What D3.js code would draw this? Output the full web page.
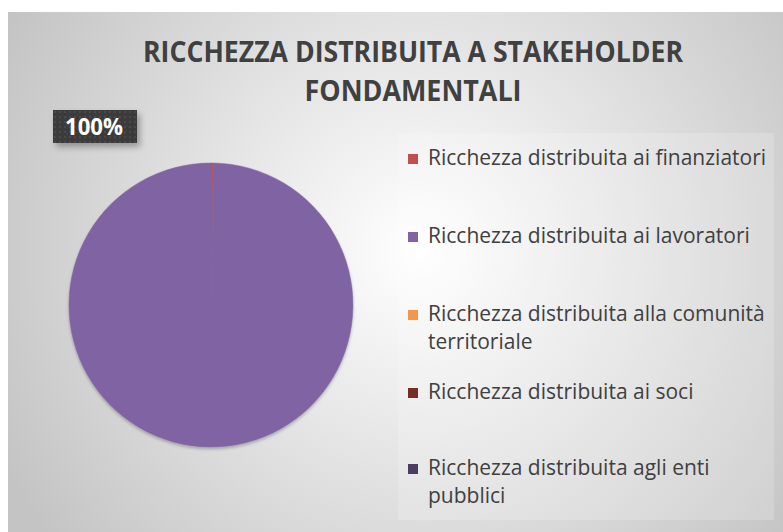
<!DOCTYPE html>
<html>
<head>
<meta charset="utf-8">
<script src="https://cdn.jsdelivr.net/npm/d3@7"></script>
<style>
  body { margin: 0; background: #fff; }
  svg { display: block; font-family: "Open Sans", "Noto Sans", sans-serif; }
</style>
</head>
<body>
<svg id="chart" width="783" height="532"></svg>
<script>
const titleLines = ['RICCHEZZA DISTRIBUITA A STAKEHOLDER', 'FONDAMENTALI'];
const categories = [
  'Ricchezza distribuita ai finanziatori',
  'Ricchezza distribuita ai lavoratori',
  'Ricchezza distribuita alla comunità territoriale',
  'Ricchezza distribuita ai soci',
  'Ricchezza distribuita agli enti pubblici'
];
const values = [0.25, 99.75, 0, 0, 0];
const colors = ['#c0504d', '#8064a2', '#f79646', '#772c2a', '#4d3b62'];
// legend text broken the way the chart wraps it
const legendLines = [
  ['Ricchezza distribuita ai finanziatori'],
  ['Ricchezza distribuita ai lavoratori'],
  ['Ricchezza distribuita alla comunità', 'territoriale'],
  ['Ricchezza distribuita ai soci'],
  ['Ricchezza distribuita agli enti', 'pubblici']
];

const config = {
  'left': 8, 'top': 12,
  'cx': 211, 'cy': 305, 'radius': 142,
  'text': '#404040'
};

const svg = d3.select('#chart');
const W = +svg.attr('width');
const H = +svg.attr('height');

const defs = svg.append('defs');
const bg = defs.append('radialGradient')
  .attr('id', 'bg')
  .attr('gradientUnits', 'userSpaceOnUse')
  .attr('cx', 420).attr('cy', 250).attr('r', 470);
bg.append('stop').attr('offset', '0%').attr('stop-color', '#ffffff');
bg.append('stop').attr('offset', '100%').attr('stop-color', '#c4c4c4');

const dots = defs.append('pattern')
  .attr('id', 'dots')
  .attr('patternUnits', 'userSpaceOnUse')
  .attr('width', 5).attr('height', 5);
dots.append('rect').attr('width', 5).attr('height', 5).attr('fill', '#3a3a3a');
dots.append('rect').attr('x', 1).attr('y', 1).attr('width', 2).attr('height', 2).attr('fill', '#4a4a4a');

const shadow = defs.append('filter').attr('id', 'shadow')
  .attr('x', '-20%').attr('y', '-20%').attr('width', '150%').attr('height', '160%');
shadow.append('feDropShadow')
  .attr('dx', 3).attr('dy', 4).attr('stdDeviation', 3)
  .attr('flood-color', '#000').attr('flood-opacity', 0.3);

const pieShadow = defs.append('filter').attr('id', 'pieShadow')
  .attr('x', '-10%').attr('y', '-10%').attr('width', '120%').attr('height', '125%');
pieShadow.append('feDropShadow')
  .attr('dx', 0).attr('dy', 2).attr('stdDeviation', 1.5)
  .attr('flood-color', '#000').attr('flood-opacity', 0.25);

svg.append('rect')
  .attr('x', config.left).attr('y', config.top)
  .attr('width', W - config.left).attr('height', H - config.top)
  .attr('fill', 'url(#bg)');

// title, squeezed to the width the original font gives
const titleWidths = [540, 217];
svg.append('g')
  .selectAll('text')
  .data(titleLines)
  .enter()
  .append('text')
  .attr('x', 413)
  .attr('y', (d, i) => 62 + i * 39)
  .attr('text-anchor', 'middle')
  .attr('textLength', (d, i) => titleWidths[i])
  .attr('lengthAdjust', 'spacingAndGlyphs')
  .attr('fill', config.text)
  .style('font-size', '29px')
  .style('font-weight', 'bold')
  .text(d => d);

// pie
const pie = d3.pie().sort(null).value(d => d)(values);
const arc = d3.arc().innerRadius(0).outerRadius(config.radius);

svg.append('g')
  .attr('transform', `translate(${config.cx}, ${config.cy})`)
  .attr('filter', 'url(#pieShadow)')
  .selectAll('path')
  .data(pie)
  .enter()
  .append('path')
  .attr('d', arc)
  .attr('fill', (d, i) => colors[i])
  .attr('stroke', (d, i) => d.value > 0 ? colors[i] : 'none')
  .attr('stroke-width', 0.5);

// data label for the big slice
const total = d3.sum(values);
const main = pie[1];
const label = svg.append('g').attr('transform', 'translate(53, 110)');
label.append('rect')
  .attr('width', 84).attr('height', 33)
  .attr('fill', 'url(#dots)')
  .attr('filter', 'url(#shadow)');
label.append('text')
  .attr('x', 41).attr('y', 25)
  .attr('text-anchor', 'middle')
  .attr('textLength', 58)
  .attr('lengthAdjust', 'spacingAndGlyphs')
  .attr('fill', '#fff')
  .style('font-size', '23px')
  .style('font-weight', 'bold')
  .text(d3.format('.0%')(main.value / total));

// legend
const legend = svg.append('g');
legend.append('rect')
  .attr('x', 398).attr('y', 133)
  .attr('width', 376).attr('height', 387)
  .attr('fill', '#ffffff').attr('fill-opacity', 0.18);

const rowY = [158, 236, 314, 392, 468];
const items = legend.selectAll('g.item')
  .data(categories)
  .enter()
  .append('g')
  .attr('class', 'item')
  .attr('transform', (d, i) => `translate(408, ${rowY[i]})`);

items.append('rect')
  .attr('x', 0).attr('y', -4)
  .attr('width', 10).attr('height', 10)
  .attr('fill', (d, i) => colors[i]);

items.append('text')
  .attr('fill', config.text)
  .style('font-size', '21px')
  .selectAll('tspan')
  .data((d, i) => legendLines[i])
  .enter()
  .append('tspan')
  .attr('x', 20)
  .attr('y', (d, i) => 7 + i * 28)
  .text(d => d);
</script>
</body>
</html>
